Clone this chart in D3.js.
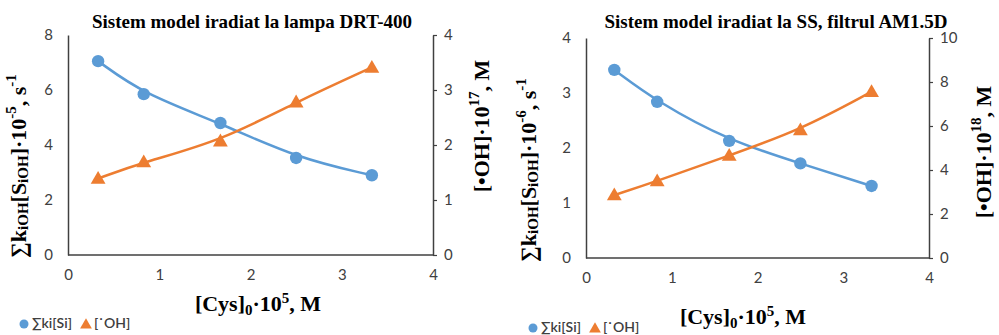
<!DOCTYPE html>
<html><head><meta charset="utf-8">
<script src="https://cdn.jsdelivr.net/npm/d3@7"></script>
<style>
body{margin:0;background:#fff;}
svg{display:block;}
</style></head>
<body><svg id="c" width="999" height="335"></svg>
<script>
const cys = [0.33, 0.83, 1.67, 2.5, 3.33];
const xTicks = [0, 1, 2, 3, 4];
// Chart A: DRT-400 lamp
const sumA = [7.05, 5.85, 4.8, 3.53, 2.9];
const ohA = [1.39, 1.69, 2.07, 2.78, 3.41];
const yTicksA = [0, 2, 4, 6, 8];
const y2TicksA = [0, 1, 2, 3, 4];
// Chart B: SS, AM1.5D filter
const sumB = [3.42, 2.84, 2.13, 1.72, 1.31];
const ohB = [2.86, 3.5, 4.66, 5.82, 7.56];
const yTicksB = [0, 1, 2, 3, 4];
const y2TicksB = [0, 2, 4, 6, 8, 10];
const titles = ["Sistem model iradiat la lampa DRT-400", "Sistem model iradiat la SS, filtrul AM1.5D"];
const legendLabels = ["∑ki[Si]", "[˙OH]"];

const BLUE = "#5B9BD5", ORANGE = "#ED7D31", AX = "#404040";
const svg = d3.select("#c");

const charts = [
  {x0:68, x1:433, yT:35, yB:255, sum:sumA, oh:ohA, yT1:yTicksA, yT2:y2TicksA, title:titles[0], tx:252, ty:28,
   exp1:"-5", exp2:"17", ylx:21, yly:166, y2x:484, y2y:126, xtx:258, xty:311, legY:324, legX:24},
  {x0:586, x1:929, yT:38, yB:258, sum:sumB, oh:ohB, yT1:yTicksB, yT2:y2TicksB, title:titles[1], tx:776, ty:28,
   exp1:"-6", exp2:"18", ylx:531, yly:170, y2x:986, y2y:152, xtx:743, xty:324, legY:328, legX:533}
];

charts.forEach(c => {
  const g = svg.append("g");
  const x = d3.scaleLinear().domain([0,4]).range([c.x0, c.x1]);
  const y = d3.scaleLinear().domain([0, d3.max(c.yT1)]).range([c.yB, c.yT]);
  const y2 = d3.scaleLinear().domain([0, d3.max(c.yT2)]).range([c.yB, c.yT]);

  const styleAxis = sel => {
    sel.select(".domain").attr("stroke", AX).attr("stroke-width", 1.5);
    sel.selectAll(".tick line").attr("stroke", AX).attr("stroke-width", 1.2);
    sel.selectAll(".tick text").attr("fill", "#404040").style("font-family", "Lato, 'Open Sans', sans-serif").style("font-size", "15px");
  };
  g.append("g").attr("transform", `translate(0,${c.yB})`)
    .call(d3.axisBottom(x).tickValues(xTicks).tickFormat(d3.format("d")).tickSize(0).tickPadding(14).tickSizeOuter(0))
    .call(styleAxis).call(s => s.select(".domain").remove());
  g.append("g").attr("transform", `translate(${c.x0},0)`)
    .call(d3.axisLeft(y).tickValues(c.yT1).tickFormat(d3.format("d")).tickSize(0).tickPadding(15).tickSizeOuter(0))
    .call(styleAxis);
  g.append("g").attr("transform", `translate(${c.x1},0)`)
    .call(d3.axisRight(y2).tickValues(c.yT2).tickFormat(d3.format("d")).tickSize(4).tickPadding(7).tickSizeOuter(0))
    .call(styleAxis);
  g.append("line").attr("x1", c.x0).attr("x2", c.x1).attr("y1", c.yB).attr("y2", c.yB)
    .attr("stroke", AX).attr("stroke-width", 1.5);

  const ptsS = cys.map((v,i)=>[x(v), y(c.sum[i])]);
  const ptsO = cys.map((v,i)=>[x(v), y2(c.oh[i])]);
  const line = d3.line().curve(d3.curveBasis);
  g.append("path").attr("d", line(ptsS)).attr("fill","none").attr("stroke",BLUE).attr("stroke-width",2.5);
  g.append("path").attr("d", line(ptsO)).attr("fill","none").attr("stroke",ORANGE).attr("stroke-width",2.5);
  g.selectAll(".ms").data(ptsS).join("circle").attr("cx",d=>d[0]).attr("cy",d=>d[1]).attr("r",6.2).attr("fill",BLUE);
  const tri = d3.symbol().type(d3.symbolTriangle).size(95);
  g.selectAll(".mo").data(ptsO).join("path").attr("d", tri).attr("transform", d=>`translate(${d[0]},${d[1]+1})`).attr("fill",ORANGE);

  const serif = t => t.style("font-family","'Liberation Serif', 'Times New Roman', serif").style("font-weight","bold").attr("fill","#000");
  g.append("text").attr("x", c.tx).attr("y", c.ty).attr("text-anchor","middle")
    .style("font-size","19px").call(serif).text(c.title);

  // Y title left
  const t1 = g.append("text").attr("transform", `translate(${c.ylx},${c.yly}) rotate(-90)`).attr("text-anchor","middle").attr("dominant-baseline","middle")
    .style("font-size","22px").call(serif);
  t1.append("tspan").text("∑k");
  t1.append("tspan").text("iOH").style("font-size","15px").attr("baseline-shift","-25%");
  t1.append("tspan").text("[S");
  t1.append("tspan").text("iOH").style("font-size","15px").attr("baseline-shift","-25%");
  t1.append("tspan").text("]·10");
  t1.append("tspan").text(c.exp1).style("font-size","15px").attr("baseline-shift","super");
  t1.append("tspan").text(", s");
  t1.append("tspan").text("-1").style("font-size","15px").attr("baseline-shift","super");
  // Y title right
  const t2 = g.append("text").attr("transform", `translate(${c.y2x},${c.y2y}) rotate(-90)`).attr("text-anchor","middle").attr("dominant-baseline","middle")
    .style("font-size","22px").call(serif);
  t2.append("tspan").text("[•OH]·10");
  t2.append("tspan").text(c.exp2).style("font-size","15px").attr("baseline-shift","super");
  t2.append("tspan").text(", M");
  // X title
  const t3 = g.append("text").attr("x", c.xtx).attr("y", c.xty).attr("text-anchor","middle").style("font-size","22px").call(serif);
  t3.append("tspan").text("[Cys]");
  t3.append("tspan").text("0").style("font-size","15px").attr("baseline-shift","-25%");
  t3.append("tspan").text("·10");
  t3.append("tspan").text("5").style("font-size","15px").attr("baseline-shift","super");
  t3.append("tspan").text(", M");

  // legend
  const lg = g.append("g").attr("transform", `translate(${c.legX},${c.legY})`);
  lg.append("circle").attr("cx",0).attr("cy",0).attr("r",4.5).attr("fill",BLUE);
  const lt = lg.append("text").attr("x",8).attr("y",0).attr("dominant-baseline","middle")
    .style("font-family","Lato, 'Open Sans', sans-serif").style("font-size","14px").style("font-weight","600").attr("fill","#404040").text(legendLabels[0]);
  const w = lt.node().getComputedTextLength();
  const tx2 = 8 + w + 14;
  lg.append("path").attr("d", d3.symbol().type(d3.symbolTriangle).size(60)).attr("transform",`translate(${tx2},1)`).attr("fill",ORANGE);
  lg.append("text").attr("x", tx2+8).attr("y",0).attr("dominant-baseline","middle")
    .style("font-family","Lato, 'Open Sans', sans-serif").style("font-size","14px").style("font-weight","600").attr("fill","#404040").text(legendLabels[1]);
});
</script></body></html>
